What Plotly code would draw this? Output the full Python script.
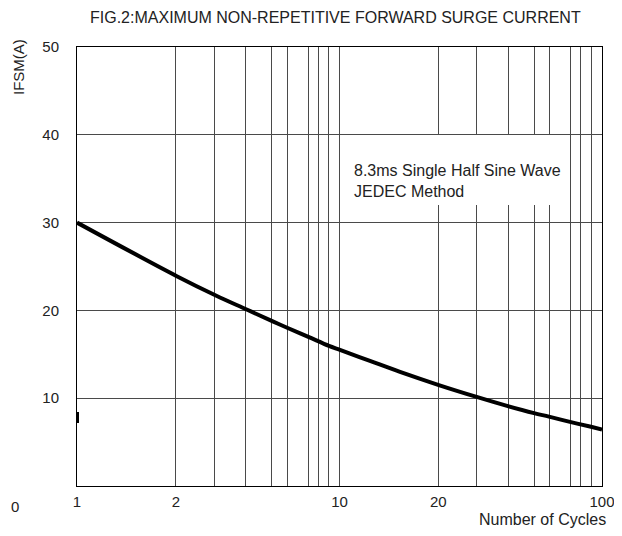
import plotly.graph_objects as go

# ---- data ----
# curve (x in the drawn log scale of the chart, y in amperes)
cycles = [1.0, 2.40, 3.38, 4.43, 5.57, 6.35, 7.65, 9.12, 10.04, 13.06, 17.0,
          23.9, 33.3, 43.8, 55.1, 62.8, 75.5, 90.8, 100.0]
ifsm = [30.0, 23.9, 21.7, 20.1, 18.75, 18.0, 16.95, 15.95, 15.5, 14.25, 13.0,
        11.5, 10.15, 9.1, 8.3, 7.9, 7.3, 6.74, 6.44]

# vertical grid lines as drawn on the original chart
x_grid = [1, 2.38, 3.33, 4.40, 5.53, 6.31, 7.59, 8.30, 9.08,
          10, 23.8, 33.3, 44.0, 55.3, 63.1, 75.9, 83.0, 90.8, 100]
x_grid_text = ["1", "2", "", "", "", "", "", "", "",
               "10", "20", "", "", "", "", "", "", "", "100"]
y_ticks = [10, 20, 30, 40, 50]
y_tick_text = ["10", "20", "30", "40", "50"]

title_text = "FIG.2:MAXIMUM NON-REPETITIVE FORWARD SURGE CURRENT"
y_title = "IFSM(A)"
x_title = "Number of Cycles"
note_text = "8.3ms Single Half Sine Wave<br>JEDEC Method"

# page has an 8px body margin; compensate so the plot lands where the reference has it
OFF = 8
W, H = 622 - OFF, 536 - OFF
PL, PR, PT, PB = 77, 602, 47, 486          # plot area in page pixels
L, T = PL - OFF, PT - OFF
R, B = W - (PR - OFF), H - (PB - OFF)

FONT = "Liberation Sans, Arial, sans-serif"
TXT = "#222222"
GRID = "#4a4a4a"

fig = go.Figure()
fig.add_trace(go.Scatter(
    x=cycles, y=ifsm, mode="lines",
    line=dict(color="black", width=4, shape="spline", smoothing=1.0),
    hoverinfo="skip", showlegend=False,
))

fig.update_layout(
    width=W, height=H,
    margin=dict(l=L, r=R, t=T, b=B, autoexpand=False),
    paper_bgcolor="white", plot_bgcolor="white",
    font=dict(family=FONT, size=15, color=TXT),
    showlegend=False,
)

fig.update_xaxes(
    type="log", range=[0, 2],
    tickmode="array", tickvals=x_grid, ticktext=x_grid_text,
    showgrid=True, gridcolor=GRID, gridwidth=1,
    showline=True, linecolor="black", linewidth=1, mirror=True,
    ticks="", ticklabelstandoff=2,
    tickfont=dict(family=FONT, size=15, color=TXT),
    zeroline=False,
)
fig.update_yaxes(
    range=[0, 50],
    tickmode="array", tickvals=y_ticks, ticktext=y_tick_text,
    showgrid=True, gridcolor=GRID, gridwidth=1,
    showline=True, linecolor="black", linewidth=1, mirror=True,
    ticks="", ticklabelstandoff=14,
    tickfont=dict(family=FONT, size=15, color=TXT),
    zeroline=False,
)

pw, ph = PR - PL, PB - PT
def px(xp):
    return (xp - PL) / pw
def py(yp):
    return (PB - yp) / ph

# white box behind the note
fig.add_shape(type="rect", xref="paper", yref="paper",
              x0=px(341), x1=px(569), y0=py(205), y1=py(135),
              fillcolor="white", line=dict(width=0), layer="above")
# small mark on left border
fig.add_shape(type="line", xref="paper", yref="paper",
              x0=px(78), x1=px(78), y0=py(423), y1=py(412),
              line=dict(color="black", width=2), layer="above")

fig.add_annotation(text=title_text, xref="paper", yref="paper",
                   x=px(335), y=py(18), xanchor="center", yanchor="middle",
                   showarrow=False, font=dict(family=FONT, size=16, color=TXT))
fig.add_annotation(text=y_title, xref="paper", yref="paper",
                   x=px(19), y=py(67), xanchor="center", yanchor="middle",
                   textangle=-90, showarrow=False,
                   font=dict(family=FONT, size=15, color=TXT))
fig.add_annotation(text=x_title, xref="paper", yref="paper",
                   x=px(608), y=py(520), xanchor="right", yanchor="middle",
                   showarrow=False, font=dict(family=FONT, size=16, color=TXT))
fig.add_annotation(text=note_text, xref="paper", yref="paper",
                   x=px(352), y=py(180.5), xanchor="left", yanchor="middle",
                   align="left", showarrow=False,
                   font=dict(family=FONT, size=16, color=TXT))
fig.add_annotation(text="0", xref="paper", yref="paper",
                   x=px(9), y=py(506), xanchor="left", yanchor="middle",
                   showarrow=False, font=dict(family=FONT, size=15, color=TXT))

fig.write_html("out.html")
